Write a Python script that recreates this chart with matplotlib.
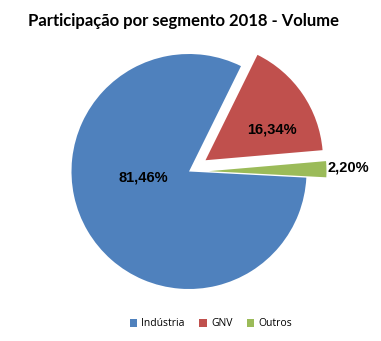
import matplotlib
matplotlib.use("Agg")
import matplotlib.pyplot as plt
from matplotlib.patches import Patch

title = "Participação por segmento 2018 - Volume"
categories = ["Indústria", "GNV", "Outros"]
values = [81.46, 16.34, 2.20]
value_labels = ["81,46%", "16,34%", "2,20%"]
colors = ["#4F81BD", "#C0504D", "#9BBB59"]

W, H = 381, 341
fig = plt.figure(figsize=(W / 100, H / 100), dpi=100)
ax = fig.add_axes([0, 0, 1, 1])

cx, cy = 189, H - 171.5
R = 117.5
off = 0.17 * R
wedges, _ = ax.pie(values, colors=colors, startangle=-3, counterclock=False,
                   explode=[0, off, off], center=(cx, cy), radius=R,
                   wedgeprops=dict(linewidth=0), frame=True)
ax.set_xlim(0, W)
ax.set_ylim(0, H)
ax.set_aspect("equal")
ax.axis("off")

lab_font = dict(family="Liberation Sans", weight="bold", fontsize=10.5, color="black")
ax.text(143, H - 178, value_labels[0], ha="center", va="center", **lab_font)
ax.text(272, H - 130, value_labels[1], ha="center", va="center", **lab_font)
ax.text(328, H - 168, value_labels[2], ha="left", va="center", **lab_font)

fig.text(183 / W, 1 - 21 / H, title, ha="center", va="center",
         family="Lato", weight="bold", fontsize=12)

handles = [Patch(facecolor=c, edgecolor="none") for c in colors]
leg = fig.legend(handles, categories, loc="center", bbox_to_anchor=(211 / W, 1 - 324 / H),
                 ncol=3, frameon=False, prop=dict(family="Open Sans", size=7.5),
                 handlelength=0.7, handleheight=0.7, handletextpad=0.4, columnspacing=1.4)

fig.savefig("out.png", dpi=100)
